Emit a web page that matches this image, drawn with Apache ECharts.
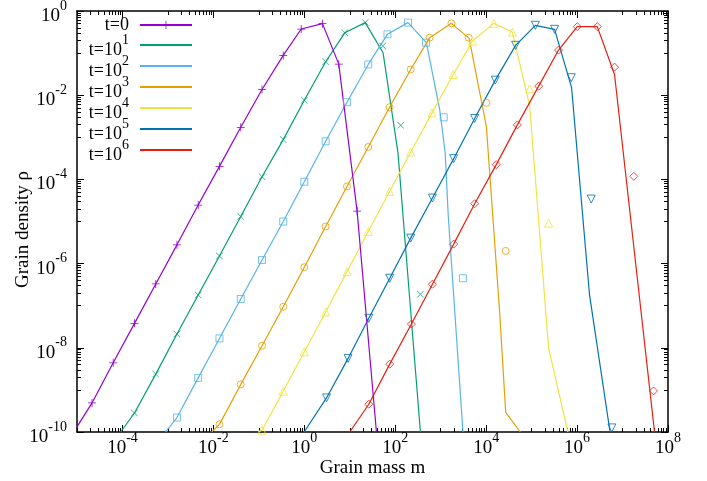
<!DOCTYPE html>
<html>
<head>
<meta charset="utf-8">
<script src="https://cdn.jsdelivr.net/npm/echarts@6/dist/echarts.min.js"></script>
<style>
html, body { margin: 0; padding: 0; background: #fff; }
#chart { width: 707px; height: 481px; }
</style>
</head>
<body>
<div id="chart"></div>
<script>
// values, [grain mass m, grain density rho]
const seriesNames = ["t=0", "t=10^1", "t=10^2", "t=10^3", "t=10^4", "t=10^5", "t=10^6"];
const colors = ["#9400d3", "#009e73", "#56b4e9", "#e69f00", "#f0e442", "#0072b2", "#e51e10"];

// t=0 is drawn as linespoints
const ptsT0 = [[2.14e-5,4.90e-10],[6.25e-5,4.40e-9],[1.84e-4,3.81e-8],[5.40e-4,3.29e-7],[1.58e-3,2.79e-6],[4.63e-3,2.46e-5],[1.36e-2,2.04e-4],[4.00e-2,1.73e-3],[0.1175,1.37e-2],[0.344,8.81e-2],[0.855,0.373],[2.51,0.501],[5.73,5.47e-2],[14.5,1.77e-5]];
const lineT0Start = [1e-5, 1.32e-10];
const lineT0End = [38.6, 1e-10];

const lineT1 = [[9.12e-5,1e-10],[1.84e-4,2.83e-10],[5.40e-4,2.37e-9],[1.58e-3,2.12e-8],[4.63e-3,1.80e-7],[1.36e-2,1.52e-6],[4.00e-2,1.32e-5],[0.1175,1.16e-4],[0.344,8.81e-4],[1.00,7.60e-3],[2.95,6.24e-2],[7.76,0.303],[21.9,0.530],[54.0,0.102],[115,4.25e-4],[358,1e-10]];
const ptsT1 = [[1.84e-4,2.83e-10],[5.40e-4,2.37e-9],[1.58e-3,2.12e-8],[4.63e-3,1.80e-7],[1.36e-2,1.52e-6],[4.00e-2,1.32e-5],[0.1175,1.16e-4],[0.344,8.81e-4],[1.00,7.60e-3],[2.95,6.24e-2],[7.76,0.303],[21.9,0.530],[53.1,0.147],[132,1.93e-3],[358,1.87e-7]];

const lineT2 = [[8.89e-4,1e-10],[1.58e-3,2.20e-10],[4.63e-3,1.93e-9],[1.36e-2,1.67e-8],[4.00e-2,1.44e-7],[0.1175,1.22e-6],[0.344,1.00e-5],[1.00,8.81e-5],[2.95,8.03e-4],[8.68,6.81e-3],[25.5,5.38e-2],[67.4,0.279],[191,0.530],[484,0.177],[951,4.57e-3],[1256,4.32e-4],[1462,1.44e-5],[3090,1e-10]];
const ptsT2 = [[1.58e-3,2.20e-10],[4.63e-3,1.93e-9],[1.36e-2,1.67e-8],[4.00e-2,1.44e-7],[0.1175,1.22e-6],[0.344,1.00e-5],[1.00,8.81e-5],[2.95,8.03e-4],[8.68,6.81e-3],[25.5,5.38e-2],[67.4,0.279],[191,0.530],[475,0.177],[1164,2.99e-3],[3090,4.49e-7]];

const lineT3 = [[9.12e-3,1e-10],[1.36e-2,1.52e-10],[4.00e-2,1.35e-9],[0.1175,1.12e-8],[0.344,9.46e-8],[1.00,8.20e-7],[2.95,7.60e-6],[8.68,6.81e-5],[25.5,5.90e-4],[75.0,5.18e-3],[219,4.09e-2],[573,0.233],[1718,0.509],[4227,0.224],[1.01e4,1.83e-3],[1.98e4,7.08e-8],[2.69e4,2.94e-10],[5.65e4,1e-10]];
const ptsT3 = [[1.36e-2,1.52e-10],[4.00e-2,1.35e-9],[0.1175,1.12e-8],[0.344,9.46e-8],[1.00,8.20e-7],[2.95,7.60e-6],[8.68,6.81e-5],[25.5,5.90e-4],[75.0,5.18e-3],[219,4.09e-2],[573,0.233],[1718,0.509],[4121,0.233],[1.01e4,6.59e-3],[2.69e4,2.00e-6]];

const lineT4 = [[9.66e-2,1e-10],[0.1175,1.10e-10],[0.344,9.31e-10],[1.00,8.03e-9],[2.95,7.08e-8],[8.68,6.45e-7],[25.5,5.78e-6],[75.0,5.18e-5],[219,4.49e-4],[644,3.81e-3],[1890,3.11e-2],[4977,0.193],[1.48e4,0.509],[3.77e4,0.316],[9.04e4,5.69e-3],[2.37e5,9.68e-9],[6.28e5,1e-10]];
const ptsT4 = [[0.1175,1.10e-10],[0.344,9.31e-10],[1.00,8.03e-9],[2.95,7.08e-8],[8.68,6.45e-7],[25.5,5.78e-6],[75.0,5.18e-5],[219,4.49e-4],[644,3.81e-3],[1890,3.11e-2],[4977,0.193],[1.48e4,0.509],[3.77e4,0.316],[9.04e4,1.42e-2],[2.37e5,9.16e-6]];

const lineT5 = [[0.99,1e-10],[3.08,6.45e-10],[9.18,5.60e-9],[26.2,5.01e-8],[75.7,4.49e-7],[219,4.03e-6],[658,3.61e-5],[1932,3.11e-4],[5585,2.79e-3],[1.59e4,2.28e-2],[4.45e4,0.153],[1.21e5,0.457],[3.20e5,0.367],[7.57e5,1.52e-2],[1.88e6,1.80e-7],[5.31e6,1e-10]];
const ptsT5 = [[3.08,6.45e-10],[9.18,5.60e-9],[26.2,5.01e-8],[75.7,4.49e-7],[219,4.03e-6],[658,3.61e-5],[1932,3.11e-4],[5585,2.79e-3],[1.59e4,2.28e-2],[4.45e4,0.153],[1.21e5,0.457],[3.20e5,0.367],[7.46e5,2.60e-2],[2.05e6,3.41e-5],[5.82e6,1.25e-10]];

const lineT6 = [[10,1e-10],[26.2,4.57e-10],[75.7,4.09e-9],[227,3.66e-8],[658,3.24e-7],[1932,2.90e-6],[5585,2.64e-5],[1.67e4,2.24e-4],[4.85e4,1.97e-3],[1.43e5,1.64e-2],[3.92e5,0.118],[1.01e6,0.425],[2.78e6,0.425],[6.67e6,3.11e-2],[5.05e7,1e-10]];
const ptsT6 = [[26.2,4.57e-10],[75.7,4.09e-9],[227,3.66e-8],[658,3.24e-7],[1932,2.90e-6],[5585,2.64e-5],[1.67e4,2.24e-4],[4.85e4,1.97e-3],[1.43e5,1.64e-2],[3.92e5,0.118],[1.01e6,0.425],[2.78e6,0.425],[6.67e6,4.64e-2],[1.77e7,1.18e-4],[4.80e7,9.46e-10]];

// axis ticks
const xMajor = [1e-4, 1e-2, 1, 1e2, 1e4, 1e6, 1e8];
const yMajor = [1e-10, 1e-8, 1e-6, 1e-4, 1e-2, 1];
const xMinorDecades = [-5, -3, -1, 1, 3, 5, 7];
const yMinorDecades = [-9, -7, -5, -3, -1];

const FONT = "Liberation Serif";
const plusPath = "path://M4.5,0h1v10h-1zM0,4.5h10v1h-10z";
const crossPath = "path://M0,0.7L0.7,0L10,9.3L9.3,10ZM9.3,0L10,0.7L0.7,10L0,9.3Z";

function minorTicks(decades) {
    let out = [];
    decades.forEach(e => {
        for (let k = 1; k <= 9; k++) out.push(k * Math.pow(10, e));
    });
    return out;
}

function powLabel(v) {
    const e = Math.round(Math.log10(v));
    return "{b|10}{s|" + e + "}";
}
const labelRich = {
    b: { fontSize: 19, fontFamily: FONT, color: "#000", lineHeight: 20, padding: [10, 0, 0, 0] },
    s: { fontSize: 14, fontFamily: FONT, color: "#000", lineHeight: 20, padding: [0, 0, 10, 0] }
};

function makeAxis(type, position, ticks, len, opts) {
    let ax = {
        type: "log",
        logBase: 10,
        min: type === "x" ? 1e-5 : 1e-10,
        max: type === "x" ? 1e8 : 1,
        position: position,
        splitLine: { show: false },
        axisLine: { show: false },
        axisTick: { show: true, inside: true, length: len, customValues: ticks, lineStyle: { color: "#000", width: 1 } },
        axisLabel: { show: false }
    };
    return Object.assign(ax, opts || {});
}

const borderLine = { show: true, onZero: false, lineStyle: { color: "#000", width: 1.5 } };

const chart = echarts.init(document.getElementById("chart"));

const lineData = [null, lineT1, lineT2, lineT3, lineT4, lineT5, lineT6];
const ptsData = [ptsT0, ptsT1, ptsT2, ptsT3, ptsT4, ptsT5, ptsT6];
const markers = [plusPath, crossPath, "rect", "circle", "triangle", "triangle", "diamond"];
const markerSize = [8, 7, 7, 7, 8, 8, 8];

let series = [];
seriesNames.forEach((name, i) => {
    if (i === 0) {
        let d = [{ value: lineT0Start, symbol: "none" }].concat(ptsT0, [{ value: lineT0End, symbol: "none" }]);
        series.push({
            name: name, type: "line", data: d,
            symbol: plusPath, symbolSize: 8, showSymbol: true,
            lineStyle: { color: colors[i], width: 1.2 },
            itemStyle: { color: colors[i] },
            z: 3
        });
        return;
    }
    series.push({
        name: name, type: "line", data: lineData[i],
        symbol: "none",
        lineStyle: { color: colors[i], width: 1.2 },
        itemStyle: { color: colors[i] },
        z: 2
    });
    const hollow = i !== 1;
    series.push({
        name: name + " pts", type: "scatter", data: ptsData[i],
        symbol: markers[i], symbolSize: markerSize[i],
        symbolRotate: i === 5 ? 180 : 0,
        itemStyle: hollow
            ? { color: "rgba(0,0,0,0)", borderColor: colors[i], borderWidth: 1 }
            : { color: colors[i] },
        z: 4
    });
});

// only the t=0 key shows its point symbol
const legendData = seriesNames.map((n, i) => i === 0 ? { name: n, itemStyle: { opacity: 1 } } : { name: n });

chart.setOption({
    animation: false,
    textStyle: { fontFamily: FONT },
    grid: { left: 77, right: 39, top: 11, bottom: 49, containLabel: false, outerBoundsMode: "none" },
    legend: {
        data: legendData,
        orient: "vertical",
        align: "right",
        right: 514,
        top: 12,
        padding: 0,
        itemWidth: 52,
        itemHeight: 10,
        itemGap: -7,
        selectedMode: false,
        itemStyle: { opacity: 0 },
        formatter: function (name) {
            const parts = name.split("^");
            if (parts.length === 1) return "{z|" + name + "}";
            return "{a|" + parts[0] + "}{s|" + parts[1] + "}";
        },
        textStyle: {
            rich: {
                z: { fontSize: 18, fontFamily: FONT, color: "#000", lineHeight: 19, padding: [4, 6, 4, 0] },
                a: { fontSize: 18, fontFamily: FONT, color: "#000", lineHeight: 19, padding: [10, 0, 0, 0] },
                s: { fontSize: 14, fontFamily: FONT, color: "#000", lineHeight: 19, padding: [0, 6, 10, 0] }
            }
        }
    },
    xAxis: [
        makeAxis("x", "bottom", xMajor, 7, {
            axisLine: borderLine,
            axisLabel: { show: true, customValues: xMajor, formatter: powLabel, rich: labelRich, margin: 1 },
            name: "Grain mass m",
            nameLocation: "middle",
            nameGap: 27,
            nameMoveOverlap: false,
            nameTextStyle: { fontSize: 19, fontFamily: FONT, color: "#000" }
        }),
        makeAxis("x", "bottom", minorTicks(xMinorDecades), 4),
        makeAxis("x", "top", xMajor, 7, { axisLine: borderLine }),
        makeAxis("x", "top", minorTicks(xMinorDecades), 4)
    ],
    yAxis: [
        makeAxis("y", "left", yMajor, 7, {
            axisLine: borderLine,
            axisLabel: { show: true, customValues: yMajor, formatter: powLabel, rich: labelRich, margin: 10 },
            name: "Grain density ρ",
            nameLocation: "middle",
            nameGap: 44,
            nameMoveOverlap: false,
            nameTextStyle: { fontSize: 19, fontFamily: FONT, color: "#000", padding: [0, 16, 0, 0] }
        }),
        makeAxis("y", "left", minorTicks(yMinorDecades), 4),
        makeAxis("y", "right", yMajor, 7, { axisLine: borderLine }),
        makeAxis("y", "right", minorTicks(yMinorDecades), 4)
    ],
    series: series
});
</script>
</body>
</html>
